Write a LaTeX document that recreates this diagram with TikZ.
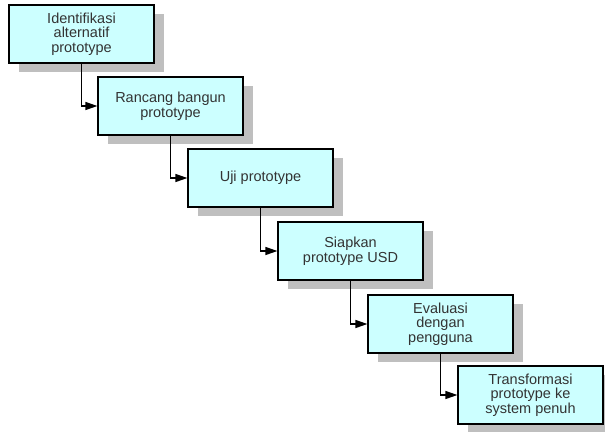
\documentclass[tikz,border=0pt]{standalone}
\usepackage{fontspec}
\setmainfont{Liberation Sans}
\usetikzlibrary{arrows.meta,shadows}
\definecolor{boxfill}{HTML}{CCFFFF}
\definecolor{shadowgray}{HTML}{BFBFBF}
\begin{document}
\begin{tikzpicture}[x=1pt,y=-1pt,
  stepbox/.style={draw=black, line width=1.2pt, fill=boxfill, minimum width=145pt, minimum height=58pt,
    align=center, font=\fontsize{14.5}{14.5}\selectfont, text=black!80, inner sep=1pt,
    drop shadow={shadow xshift=10pt, shadow yshift=-9pt, fill=shadowgray, opacity=1}},
  conn/.style={draw=black, line width=1.2pt, -{Triangle[length=12pt,width=8pt]}}]
\useasboundingbox (0,0) rectangle (605,431);
\node[stepbox] (b1) at (81.5,34) {Identifikasi\\alternatif\\prototype};
\node[stepbox] (b2) at (170.5,106) {Rancang bangun\\prototype};
\node[stepbox] (b3) at (260.5,178) {Uji prototype};
\node[stepbox] (b4) at (350.5,251) {Siapkan\\prototype USD};
\node[stepbox] (b5) at (440.5,324) {Evaluasi\\dengan\\pengguna};
\node[stepbox] (b6) at (530.5,395) {Transformasi\\prototype ke\\system penuh};
\draw[conn] (b1.south) |- (b2.west);
\draw[conn] (b2.south) |- (b3.west);
\draw[conn] (b3.south) |- (b4.west);
\draw[conn] (b4.south) |- (b5.west);
\draw[conn] (b5.south) |- (b6.west);
\end{tikzpicture}
\end{document}
